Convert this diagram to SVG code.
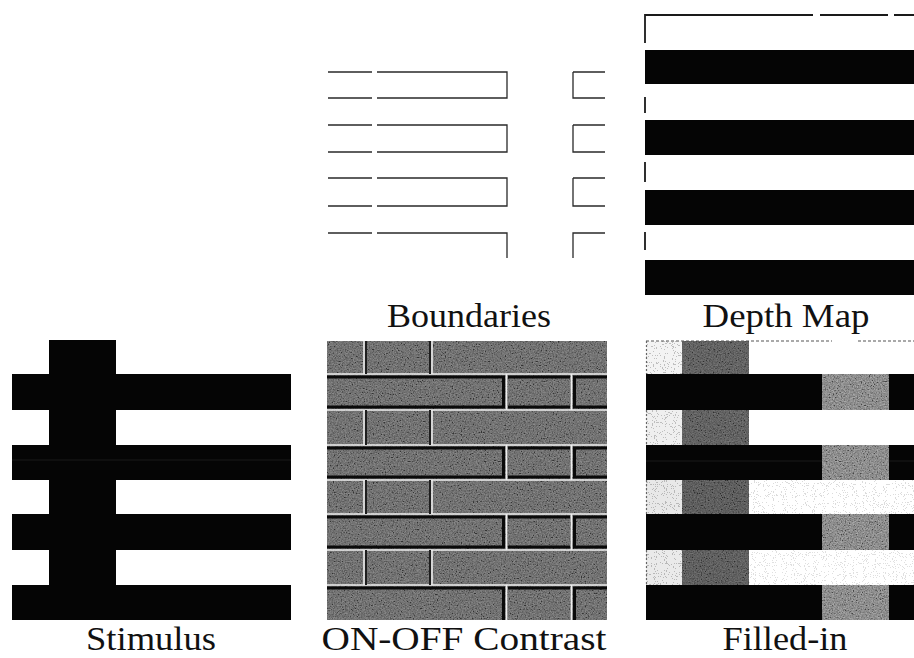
<svg xmlns="http://www.w3.org/2000/svg" width="914" height="658" viewBox="0 0 914 658">
<style>
.lbl{font-family:"Liberation Serif","DejaVu Serif",serif;font-size:34px;fill:#111;text-anchor:middle}
.bd{stroke:#2a2a2a;stroke-width:1.3;fill:none}
.dm{stroke:#1a1a1a;stroke-width:1.8;fill:none}
.blk{fill:#050505}
.wl{stroke:#eeeeee;stroke-width:1.6}
.kl{stroke:#0a0a0a;stroke-width:3}
</style>
<defs>
<filter id="noise" x="0" y="0" width="100%" height="100%">
<feTurbulence type="fractalNoise" baseFrequency="0.75" numOctaves="2" seed="4"/>
<feColorMatrix type="matrix" values="0.33 0.33 0.33 0 0 0.33 0.33 0.33 0 0 0.33 0.33 0.33 0 0 0 0 0 0 1"/>
<feComponentTransfer><feFuncR type="linear" slope="3" intercept="-1"/><feFuncG type="linear" slope="3" intercept="-1"/><feFuncB type="linear" slope="3" intercept="-1"/></feComponentTransfer>
</filter>
<filter id="dotsDense" x="0" y="0" width="100%" height="100%">
<feTurbulence type="fractalNoise" baseFrequency="0.9" numOctaves="1" seed="7"/>
<feColorMatrix type="matrix" values="0 0 0 0 0.45 0 0 0 0 0.45 0 0 0 0 0.45 1 0 0 0 0"/>
<feComponentTransfer><feFuncA type="discrete" tableValues="0 0 0 0 0 1 1 1"/></feComponentTransfer>
</filter>
<filter id="dotsSparse" x="0" y="0" width="100%" height="100%">
<feTurbulence type="fractalNoise" baseFrequency="0.9" numOctaves="1" seed="11"/>
<feColorMatrix type="matrix" values="0 0 0 0 0.5 0 0 0 0 0.5 0 0 0 0 0.5 1 0 0 0 0"/>
<feComponentTransfer><feFuncA type="discrete" tableValues="0 0 0 0 0 0 0 0 0 0 0 1"/></feComponentTransfer>
</filter>
</defs>
<rect width="914" height="658" fill="#ffffff"/>

<g id="boundaries">
<path class="bd" d="M328 72H372M377 72H507V98H377M372 98H328M573 72H605M573 72V98H605"/>
<path class="bd" d="M328 125H372M377 125H507V152H377M372 152H328M573 125H605M573 125V152H605"/>
<path class="bd" d="M328 178H372M377 178H507V206H377M372 206H328M573 178H605M573 178V206H605"/>
<path class="bd" d="M328 233H372M377 233H507V258M573 258V233H605"/>
<text class="lbl" x="469" y="327" textLength="164" lengthAdjust="spacingAndGlyphs">Boundaries</text>
</g>

<g id="depth-map">
<path class="dm" d="M645 43V15H813M820 15H888M894 15H914M645 97V113M645 162V182M645 232V250"/>
<rect class="blk" x="645" y="50" width="269" height="34"/>
<rect class="blk" x="645" y="120" width="269" height="35"/>
<rect class="blk" x="645" y="190" width="269" height="35"/>
<rect class="blk" x="645" y="260" width="269" height="35"/>
<text class="lbl" x="786" y="327" textLength="167" lengthAdjust="spacingAndGlyphs">Depth Map</text>
</g>

<g id="stimulus">
<rect class="blk" x="49" y="340" width="67" height="250"/>
<rect class="blk" x="12" y="374" width="279" height="36"/>
<rect class="blk" x="12" y="445" width="279" height="35"/>
<rect class="blk" x="12" y="514" width="279" height="36"/>
<rect class="blk" x="12" y="585" width="279" height="35"/>
<line x1="12" y1="460" x2="291" y2="460" stroke="#202020" stroke-width="0.8"/>
<text class="lbl" x="151" y="650" textLength="130" lengthAdjust="spacingAndGlyphs">Stimulus</text>
</g>

<g id="on-off-contrast">
<rect x="327" y="341" width="280" height="279" fill="#4e4e4e"/>
<rect x="327" y="341" width="280" height="279" filter="url(#noise)" opacity="0.34"/>
<path class="wl" d="M327 374H607M327 410H607M327 445H607M327 480H607M327 514H607M327 550H607M327 585H607"/>
<path class="wl" d="M364 341V374M432 341V374M364 410V445M432 410V445M364 480V514M432 480V514M364 550V585M432 550V585"/>
<path d="M366 341V374M430 341V374M366 410V445M430 410V445M366 480V514M430 480V514M366 550V585M430 550V585" stroke="#1e1e1e" stroke-width="2"/>
<path class="wl" d="M506.5 374V410M571.5 374V410M506.5 445V480M571.5 445V480M506.5 514V550M571.5 514V550M506.5 585V620M571.5 585V620"/>
<path class="kl" d="M327 377H505M327 407H505M508 377H570M508 407H570M573 377H607M573 407H607M503.5 376V408.5M574.5 376V408.5"/>
<path class="kl" d="M327 448H505M327 477H505M508 448H570M508 477H570M573 448H607M573 477H607M503.5 447V478.5M574.5 447V478.5"/>
<path class="kl" d="M327 517H505M327 547H505M508 517H570M508 547H570M573 517H607M573 547H607M503.5 516V548.5M574.5 516V548.5"/>
<path class="kl" d="M327 588H505M508 588H570M573 588H607M503.5 587V620M574.5 587V620"/>
<text class="lbl" x="464" y="650" textLength="285" lengthAdjust="spacingAndGlyphs">ON-OFF Contrast</text>
</g>

<g id="filled-in">
<rect x="646" y="341" width="36" height="33" fill="#f3f3f3"/>
<rect x="646" y="410" width="36" height="35" fill="#efefef"/>
<rect x="646" y="480" width="36" height="34" fill="#e8e8e8"/>
<rect x="646" y="550" width="36" height="35" fill="#eaeaea"/>
<rect x="646" y="341" width="36" height="33" filter="url(#dotsDense)" opacity="0.8"/>
<rect x="646" y="410" width="36" height="35" filter="url(#dotsDense)" opacity="0.8"/>
<rect x="646" y="480" width="36" height="34" filter="url(#dotsDense)" opacity="0.9"/>
<rect x="646" y="550" width="36" height="35" filter="url(#dotsDense)" opacity="0.9"/>
<rect x="749" y="480" width="165" height="34" filter="url(#dotsDense)" opacity="0.45"/>
<rect x="749" y="550" width="165" height="35" filter="url(#dotsDense)" opacity="0.4"/>
<rect x="749" y="341" width="165" height="33" filter="url(#dotsSparse)"/>
<rect x="749" y="410" width="165" height="35" filter="url(#dotsSparse)"/>
<rect x="682" y="341" width="67" height="33" fill="#424242"/>
<rect x="682" y="410" width="67" height="35" fill="#424242"/>
<rect x="682" y="480" width="67" height="34" fill="#3c3c3c"/>
<rect x="682" y="550" width="67" height="35" fill="#3e3e3e"/>
<rect x="682" y="341" width="67" height="33" filter="url(#noise)" opacity="0.28"/>
<rect x="682" y="410" width="67" height="35" filter="url(#noise)" opacity="0.28"/>
<rect x="682" y="480" width="67" height="34" filter="url(#noise)" opacity="0.28"/>
<rect x="682" y="550" width="67" height="35" filter="url(#noise)" opacity="0.28"/>
<rect class="blk" x="646" y="374" width="176" height="36"/>
<rect class="blk" x="646" y="445" width="176" height="35"/>
<rect class="blk" x="646" y="514" width="176" height="36"/>
<rect class="blk" x="646" y="585" width="176" height="35"/>
<rect class="blk" x="889" y="374" width="25" height="36"/>
<rect class="blk" x="889" y="445" width="25" height="35"/>
<rect class="blk" x="889" y="514" width="25" height="36"/>
<rect class="blk" x="889" y="585" width="25" height="35"/>
<rect x="822" y="374" width="67" height="36" fill="#727272"/>
<rect x="822" y="445" width="67" height="35" fill="#727272"/>
<rect x="822" y="514" width="67" height="36" fill="#727272"/>
<rect x="822" y="585" width="67" height="35" fill="#727272"/>
<rect x="822" y="374" width="67" height="36" filter="url(#noise)" opacity="0.4"/>
<rect x="822" y="445" width="67" height="35" filter="url(#noise)" opacity="0.4"/>
<rect x="822" y="514" width="67" height="36" filter="url(#noise)" opacity="0.4"/>
<rect x="822" y="585" width="67" height="35" filter="url(#noise)" opacity="0.4"/>
<path d="M646 341H832M858 341H914" stroke="#555" stroke-width="1.2" stroke-dasharray="3 2"/>
<path d="M646.5 341V374M646.5 410V445M646.5 480V514M646.5 550V585" stroke="#666" stroke-width="1.2" stroke-dasharray="2 2"/>
<line x1="646" y1="461" x2="822" y2="461" stroke="#202020" stroke-width="0.8"/>
<line x1="889" y1="461" x2="914" y2="461" stroke="#202020" stroke-width="0.8"/>
<text class="lbl" x="785" y="650" textLength="125" lengthAdjust="spacingAndGlyphs">Filled-in</text>
</g>
</svg>
